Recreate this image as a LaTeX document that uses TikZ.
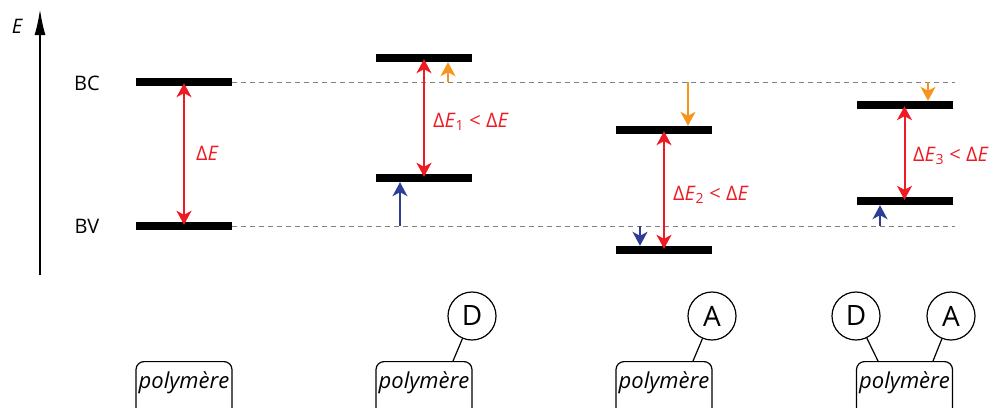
\documentclass[tikz,border=0pt]{standalone}
\usepackage{fontspec}
\setmainfont{Open Sans}
\usetikzlibrary{arrows.meta,calc}
\definecolor{cred}{RGB}{237,28,36}
\definecolor{corange}{RGB}{247,148,29}
\definecolor{cblue}{RGB}{46,62,150}
\begin{document}
\begin{tikzpicture}[x=1pt,y=-1pt,
  bar/.style={fill=black, minimum width=96pt, minimum height=8pt, inner sep=0pt, draw=none},
  dashline/.style={draw=gray, line width=0.8pt, dash pattern=on 5pt off 4pt},
  redarr/.style={draw=cred, line width=2pt, {Stealth[length=14pt,width=15pt,inset=4pt]}-{Stealth[length=14pt,width=15pt,inset=4pt]}, shorten <=-3pt, shorten >=-3pt},
  orarr/.style={draw=corange, line width=1.6pt, -{Stealth[length=14pt,width=15pt,inset=4pt]}},
  bluarr/.style={draw=cblue, line width=1.6pt, -{Stealth[length=14pt,width=15pt,inset=4pt]}},
  lvl/.style={font=\fontsize{20}{24}\selectfont},
  dlabel/.style={text=cred, anchor=west, font=\fontsize{20}{24}\selectfont, inner sep=0pt},
  polybox/.style={draw, line width=1.2pt, rounded corners=8pt, minimum width=96pt, anchor=north, inner xsep=0pt, inner ysep=8pt, text height=19pt, text depth=30pt, font=\fontsize{22}{24}\selectfont\itshape},
  grp/.style={draw, circle, line width=1.2pt, minimum size=48pt, inner sep=0pt, font=\fontsize{28}{30}\selectfont},
  link/.style={line width=1.2pt}
]
\clip (0,0) rectangle (995,407);
% axis
\coordinate (ax0) at (40,275);
\coordinate (ax1) at (40,9);
\draw[line width=2pt, -{Latex[length=26pt,width=11pt]}] (ax0) -- (ax1);
\node[font=\fontsize{20}{24}\selectfont\itshape] (Elab) at (17,26) {E};
\node[lvl] (BC) at (87,83) {BC};
\node[lvl] (BV) at (87,226) {BV};
% bars
\node[bar] (c1) at (184,82) {};
\node[bar] (v1) at (184,226) {};
\node[bar] (c2) at (424,58) {};
\node[bar] (v2) at (424,178) {};
\node[bar] (c3) at (664,130) {};
\node[bar] (v3) at (664,250) {};
\node[bar] (c4) at (904.5,105) {};
\node[bar] (v4) at (904.5,201) {};
% dashed reference lines
\coordinate (bcend) at (955,82);
\coordinate (bvend) at (955,226);
\draw[dashline] (c1.east) -- (bcend);
\draw[dashline] (v1.east) -- (bvend);
% red gaps
\draw[redarr] (c1) -- (v1);
\draw[redarr] (c2) -- (v2);
\draw[redarr] (c3) -- (v3);
\draw[redarr] (c4) -- (v4);
\node[dlabel] (l1) at (196,153) {Δ\textit{E}};
\node[dlabel] (l2) at (433,122) {Δ\textit{E}\textsubscript{1} < Δ\textit{E}};
\node[dlabel] (l3) at (673,195) {Δ\textit{E}\textsubscript{2} < Δ\textit{E}};
\node[dlabel] (l4) at (913,156) {Δ\textit{E}\textsubscript{3} < Δ\textit{E}};
% orange and blue shifts
\coordinate (o2) at (448,82);
\coordinate (b2) at (400,226);
\coordinate (o3) at (688,82);
\coordinate (b3) at (640,226);
\coordinate (o4) at (928,82);
\coordinate (b4) at (880,226);
\draw[orarr] (o2) -- (o2 |- c2.south);
\draw[bluarr] (b2) -- (b2 |- v2.south);
\draw[orarr] (o3) -- (o3 |- c3.north);
\draw[bluarr] (b3) -- (b3 |- v3.north);
\draw[orarr] (o4) -- (o4 |- c4.north);
\draw[bluarr] (b4) -- (b4 |- v4.south);
% polymers
\node[polybox] (p1) at (184,361) {polymère};
\node[polybox] (p2) at (424,361) {polymère};
\node[polybox] (p3) at (664,361) {polymère};
\node[polybox] (p4) at (904.5,361) {polymère};
\node[grp] (d2) at (472,316) {D};
\node[grp] (a3) at (712,316) {A};
\node[grp] (d4) at (856,316) {D};
\node[grp] (a4) at (951,316) {A};
\coordinate (k2) at (453,361);
\coordinate (k3) at (693,361);
\coordinate (k4d) at (878,361);
\coordinate (k4a) at (933,361);
\draw[link] (d2) -- (k2);
\draw[link] (a3) -- (k3);
\draw[link] (d4) -- (k4d);
\draw[link] (a4) -- (k4a);
\end{tikzpicture}
\end{document}
